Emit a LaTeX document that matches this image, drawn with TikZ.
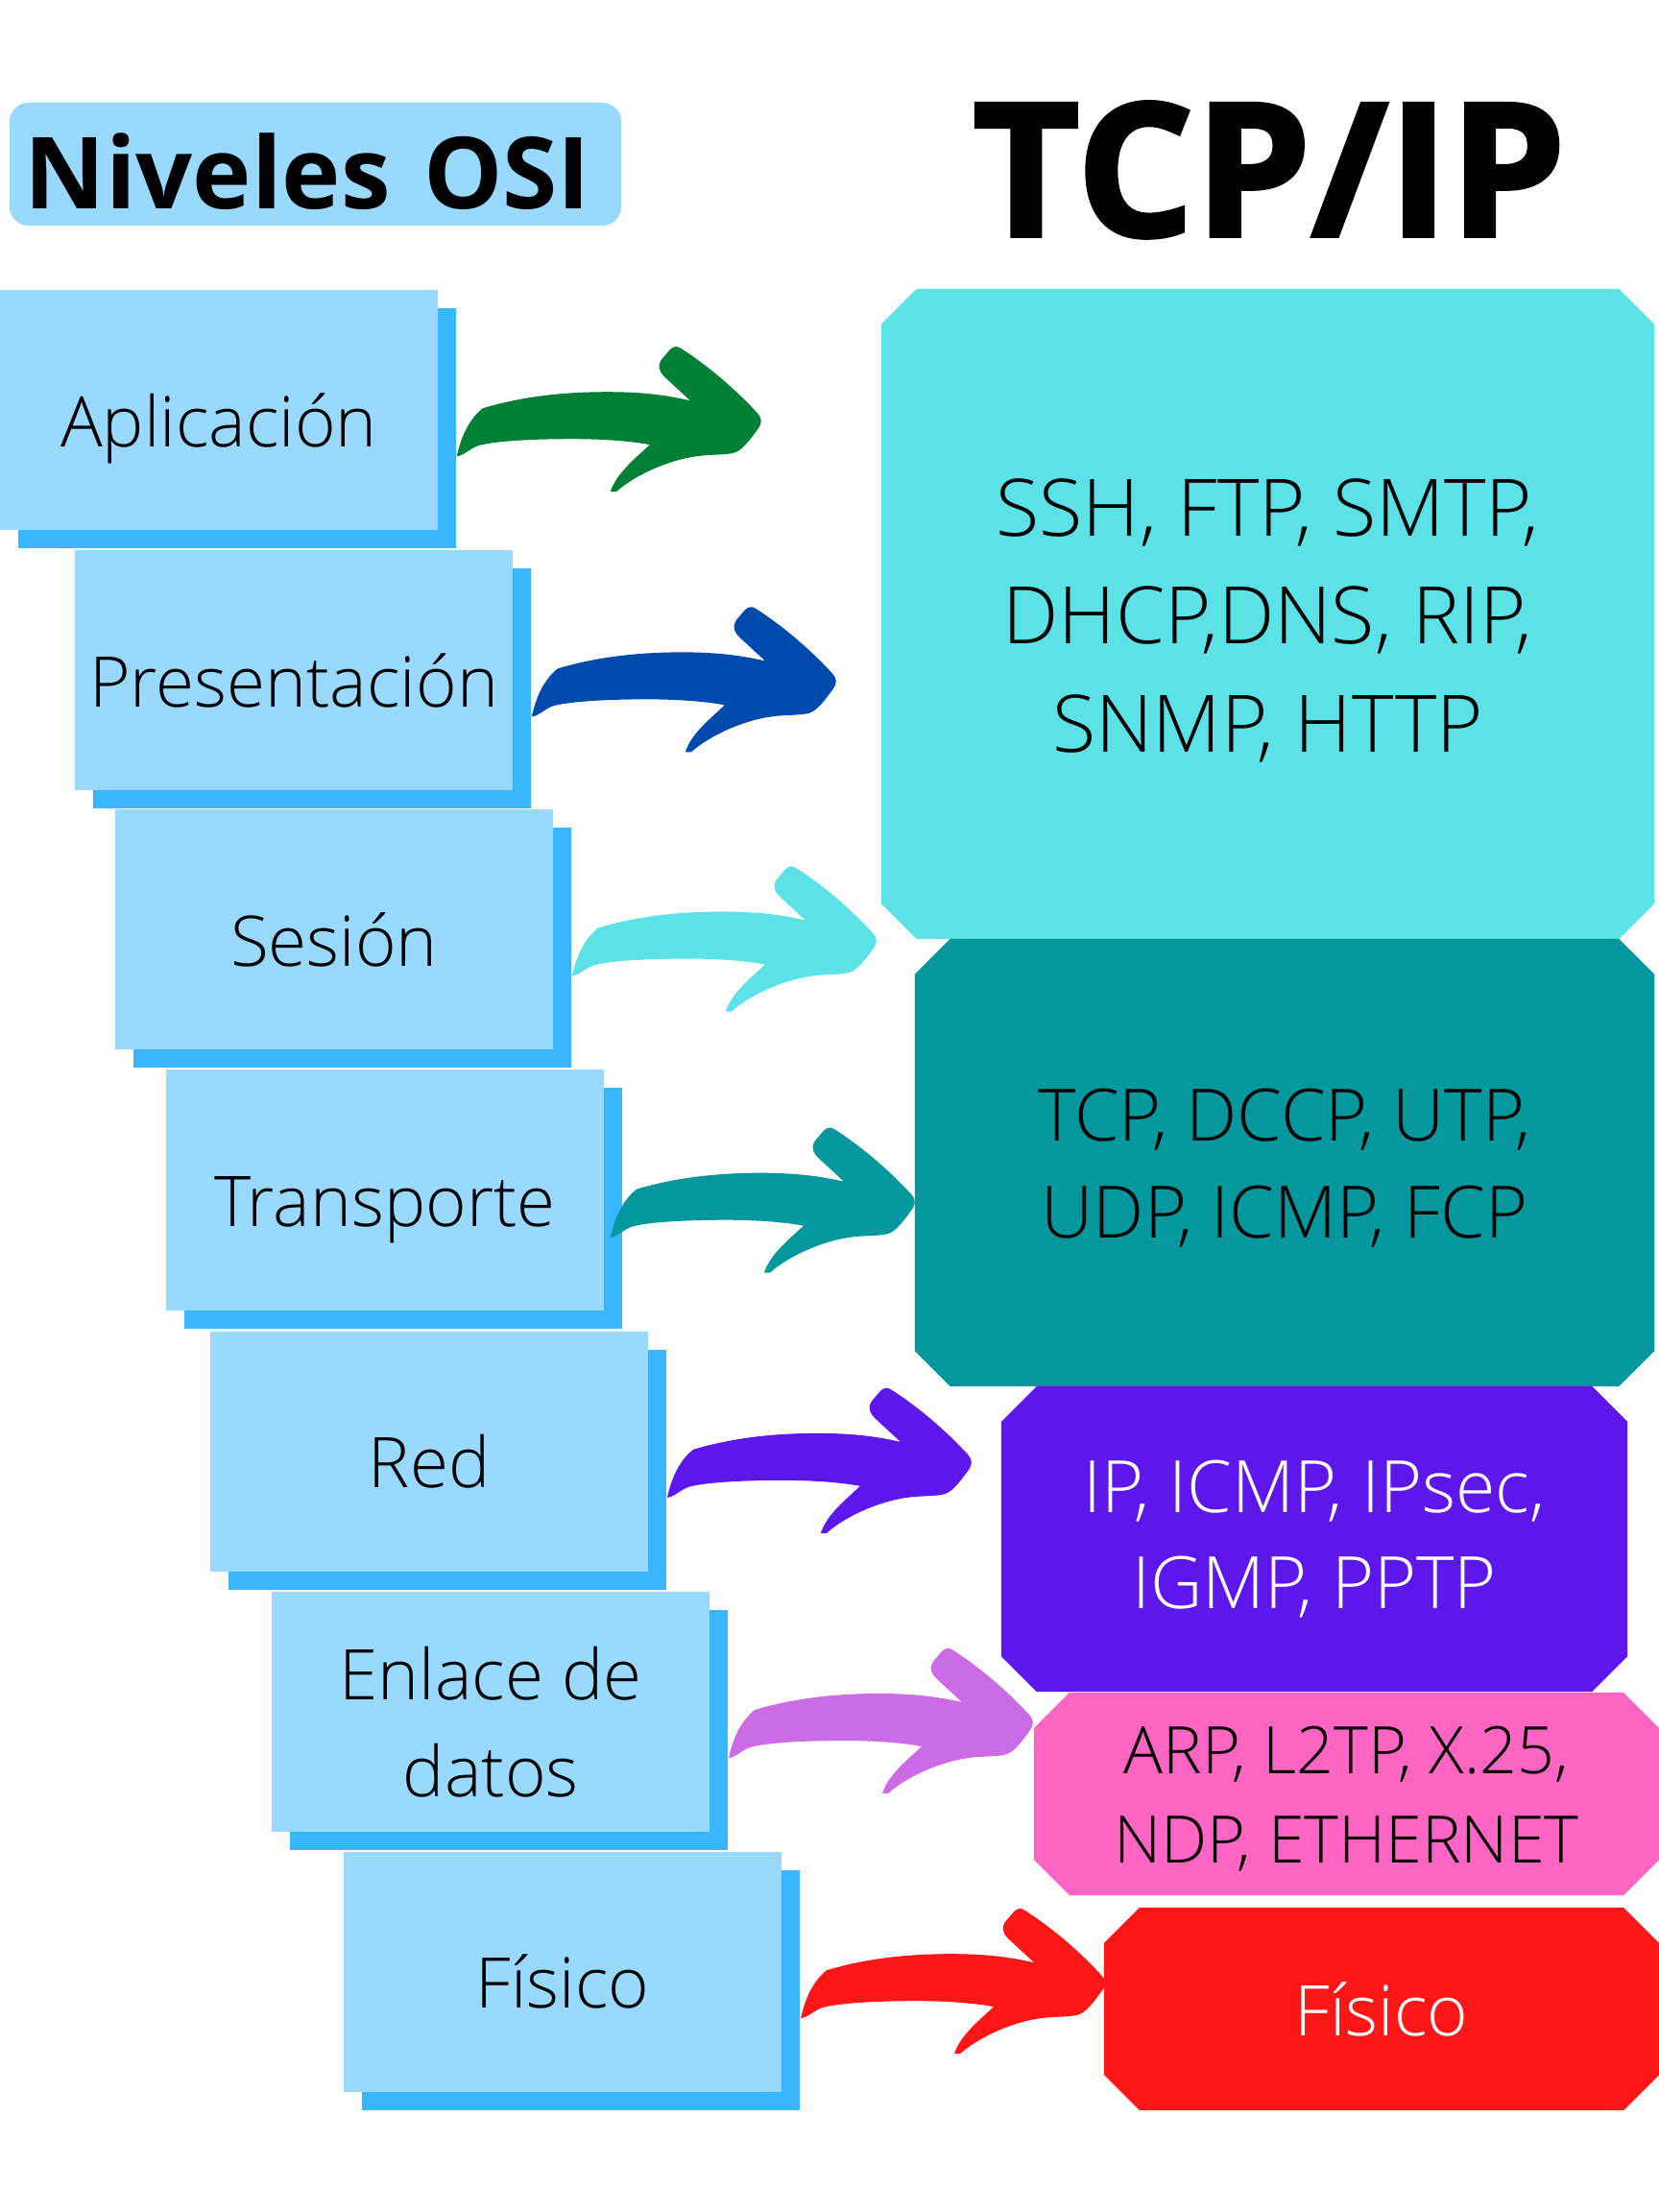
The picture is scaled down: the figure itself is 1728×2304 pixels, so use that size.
\documentclass[tikz,border=0pt]{standalone}
\usepackage{fontspec}
\setmainfont{Open Sans}
\newfontfamily\lightfont{Open Sans Light}
\newfontfamily\heavyfont{Open Sans}[BoldFeatures={FakeBold=2}]
\usepackage{tikz}
\usetikzlibrary{positioning, calc, shapes.misc, shadows}

\definecolor{osilight}{HTML}{99D9FF}
\definecolor{osidark}{HTML}{38B6FF}
\definecolor{tcpcyan}{HTML}{5CE1E6}
\definecolor{tcpteal}{HTML}{04989E}
\definecolor{tcppurple}{HTML}{5E17EB}
\definecolor{tcppink}{HTML}{FF66C4}
\definecolor{tcpred}{HTML}{FF1616}
\definecolor{arrgreen}{HTML}{008037}
\definecolor{arrblue}{HTML}{004AAD}
\definecolor{arrviolet}{HTML}{CB6CE6}

\tikzstyle{osi} = [fill=osilight, minimum width=4.56cm, minimum height=2.5cm, inner sep=0pt, align=center, text height=0.76cm, text depth=0cm, font=\lightfont\fontsize{20.7}{28.7}\selectfont, copy shadow={shadow xshift=0.19cm, shadow yshift=-0.19cm, fill=osidark, draw=none}]
\tikzstyle{tcp} = [chamfered rectangle, chamfered rectangle xsep=0.185cm, chamfered rectangle ysep=0.185cm, inner sep=0pt, align=center, font=\lightfont\fontsize{21.4}{28.5}\selectfont]

% brush arrow, origin = tail end / top of the head
\tikzset{brush/.pic={
  \fill[pic actions] (0,115) .. controls (4,97) and (11,78) .. (27,65)
    .. controls (67,53) and (110,48) .. (157,48)
    .. controls (200,48) and (225,53) .. (243,57)
    -- (216,32) .. controls (208,24) and (210,17) .. (216,11)
    -- (222,4) .. controls (226,0) and (230,0) .. (234,3)
    .. controls (262,21) and (290,45) .. (313,70)
    .. controls (318,76) and (318,80) .. (314,86)
    .. controls (306,97) and (298,108) .. (290,111)
    .. controls (282,114) and (262,113) .. (250,115)
    .. controls (220,119) and (185,135) .. (166,152)
    -- (160,152) .. controls (166,133) and (185,118) .. (201,103)
    .. controls (180,99) and (150,97) .. (120,97)
    .. controls (80,97) and (40,99) .. (22,104)
    .. controls (12,108) and (8,114) .. (0,115) -- cycle;
}}

\begin{document}
\begin{tikzpicture}[x=0.01cm,y=-0.01cm,on grid]
\useasboundingbox (0,0) rectangle (1728,2304);

\node[fill=osilight, rounded corners=0.2cm, minimum width=6.37cm, minimum height=1.28cm, inner xsep=0.16cm, text width=6.05cm, align=left, text height=0.92cm, text depth=0cm, font=\bfseries\fontsize{29.5}{34}\selectfont] (niveles) at (328.5,171) {Niveles OSI};
\node[anchor=base, font=\heavyfont\bfseries\fontsize{55}{60}\selectfont] (tcpip) at (1322,246) {TCP/IP};

% OSI stack
\node[osi] (aplic) at (228,427) {Aplicación};
\node[osi, below right=2.71cm and 0.78cm of aplic] (present) {Presentación};
\node[osi, below right=2.70cm and 0.42cm of present] (sesion) {Sesión};
\node[osi, below right=2.71cm and 0.53cm of sesion] (transp) {Transporte};
\node[osi, below right=2.72cm and 0.46cm of transp] (red) {Red};
\node[osi, below right=2.71cm and 0.64cm of red, text height=1.78cm] (enlace) {Enlace de\\datos};
\node[osi, below right=2.71cm and 0.75cm of enlace] (fisico) {Físico};

% TCP/IP stack
\node[tcp, fill=tcpcyan, minimum width=8.05cm, minimum height=6.77cm, text height=2.87cm, text depth=0cm, font=\lightfont\fontsize{23.5}{31.9}\selectfont] (tcpapp) at (1320.5,639.5) {SSH, FTP, SMTP,\\DHCP,DNS, RIP,\\SNMP, HTTP};
\node[tcp, fill=tcpteal, minimum width=7.70cm, minimum height=4.66cm, text height=1.56cm, text depth=0cm] (tcptrans) at (1338,1211) {TCP, DCCP, UTP,\\UDP, ICMP, FCP};
\node[tcp, fill=tcppurple, text=white, minimum width=6.52cm, minimum height=3.18cm] (tcpnet) at (1369,1603) {IP, ICMP, IPsec,\\IGMP, PPTP};
\node[tcp, fill=tcppink, minimum width=6.51cm, minimum height=2.11cm, text height=1.43cm, text depth=0cm, font=\lightfont\fontsize{19.4}{26.2}\selectfont] (tcplink) at (1402.5,1868.5) {ARP, L2TP, X.25,\\NDP, ETHERNET};
\node[tcp, fill=tcpred, text=white, minimum width=5.78cm, minimum height=2.11cm, font=\lightfont\fontsize{20.7}{28}\selectfont] (tcpphys) at (1439,2092.5) {Físico};

% arrows
\pic[fill=arrgreen] at ($(aplic.north east)+(19,59)$) {brush};
\pic[fill=arrblue] at ($(present.north east)+(19,59)$) {brush};
\pic[fill=tcpcyan] at ($(sesion.north east)+(19,59)$) {brush};
\pic[fill=tcpteal] at ($(transp.north east)+(6,60)$) {brush};
\pic[fill=tcppurple] at ($(red.north east)+(19,59)$) {brush};
\pic[fill=arrviolet] at ($(enlace.north east)+(19,59)$) {brush};
\pic[fill=tcpred] at ($(fisico.north east)+(19,59)$) {brush};
\end{tikzpicture}
\end{document}
